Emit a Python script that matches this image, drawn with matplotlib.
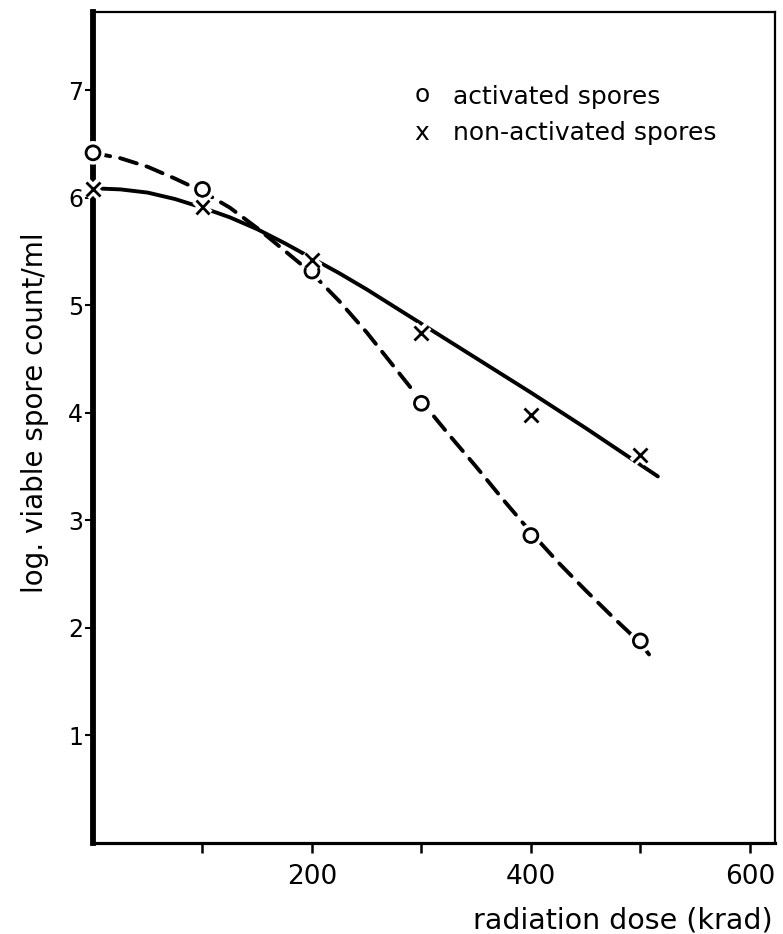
import matplotlib
matplotlib.use('Agg')
import matplotlib.pyplot as plt
import matplotlib.patheffects as pe

# measured points
dose = [0, 100, 200, 300, 400, 500]
activated = [6.42, 6.08, 5.32, 4.09, 2.86, 1.88]
non_activated = [6.08, 5.92, 5.42, 4.74, 3.98, 3.61]

# hand-drawn curves
act_curve_dose = [0, 25, 50, 75, 100, 125, 150, 175, 200, 225, 250, 275, 300,
                  325, 350, 375, 400, 425, 450, 475, 500, 509]
act_curve_val = [6.42, 6.37, 6.29, 6.18, 6.06, 5.91, 5.72, 5.51, 5.30, 5.04,
                 4.75, 4.43, 4.11, 3.80, 3.50, 3.19, 2.89, 2.61, 2.35, 2.10,
                 1.86, 1.74]
non_curve_dose = [0, 25, 50, 75, 100, 125, 150, 175, 200, 225, 250, 275, 300,
                  350, 400, 450, 516]
non_curve_val = [6.09, 6.08, 6.05, 5.99, 5.91, 5.82, 5.71, 5.58, 5.44, 5.30,
                 5.15, 4.99, 4.83, 4.51, 4.19, 3.86, 3.41]

x_ticks = [100, 200, 300, 400, 500, 600]
x_ticklabels = ['', '200', '', '400', '', '600']
y_ticks = [1, 2, 3, 4, 5, 6, 7]

plt.rcParams['font.family'] = ['DejaVu Sans']

fig = plt.figure(figsize=(7.83, 9.34), dpi=100)
W, H = 783, 934
ax = fig.add_axes([93 / W, (H - 843) / H, (775 - 93) / W, (843 - 12) / H])

ax.plot(act_curve_dose, act_curve_val, color='black', lw=2.8,
        linestyle=(0, (4.5, 2.6)), dash_capstyle='round',
        dash_joinstyle='round', zorder=3)
ax.plot(non_curve_dose, non_curve_val, color='black', lw=2.8,
        solid_capstyle='round', solid_joinstyle='round', zorder=3)

halo = [pe.Stroke(linewidth=7, foreground='white'), pe.Normal()]
ax.plot(dose, activated, linestyle='none', marker='o', ms=10, mfc='white',
        mec='black', mew=2.0, zorder=5, clip_on=False, path_effects=halo)
ax.plot(dose, non_activated, linestyle='none', marker='x', ms=10,
        mec='black', mew=2.0, zorder=5, clip_on=False, path_effects=halo)

ax.set_xlim(0, 623)
ax.set_ylim(0, 7.73)
ax.set_xticks(x_ticks)
ax.set_xticklabels(x_ticklabels)
ax.set_yticks(y_ticks)
ax.tick_params(axis='x', direction='out', length=7, width=1.8, pad=8, labelsize=19)
ax.tick_params(axis='y', direction='out', length=6, width=1.5, pad=1, labelsize=17)

ax.spines['left'].set_linewidth(4.2)
ax.spines['bottom'].set_linewidth(2.3)
ax.spines['top'].set_linewidth(1.6)
ax.spines['right'].set_linewidth(1.6)

fig.text(35 / W, 1 - 413 / H, 'log. viable spore count/ml', rotation=90,
         ha='center', va='center', fontsize=20)
fig.text(773 / W, 1 - 920 / H, 'radiation dose (krad)', ha='right',
         va='center', fontsize=20.5)

# legend as typed text
fig.text(422 / W, 1 - 95 / H, 'o', ha='center', va='center', fontsize=18)
fig.text(453 / W, 1 - 97 / H, 'activated spores', ha='left', va='center', fontsize=18)
fig.text(422 / W, 1 - 133 / H, 'x', ha='center', va='center', fontsize=18)
fig.text(453 / W, 1 - 133 / H, 'non-activated spores', ha='left', va='center', fontsize=18)

fig.savefig('out.png', dpi=100)
